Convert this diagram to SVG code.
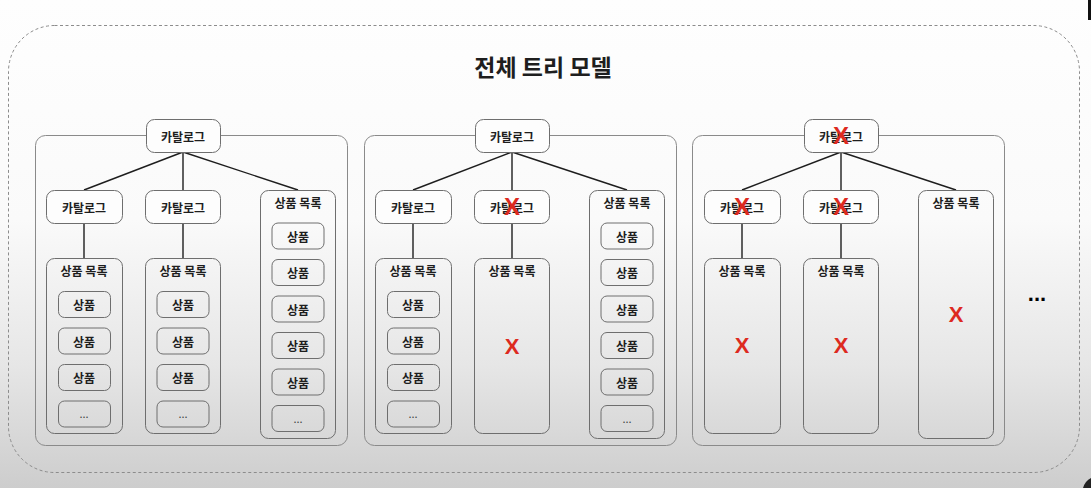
<svg xmlns="http://www.w3.org/2000/svg" width="1091" height="488" viewBox="0 0 1091 488">
<defs>
<linearGradient id="bg" x1="0" y1="0" x2="0" y2="1">
<stop offset="0" stop-color="#fefefe"/>
<stop offset="0.45" stop-color="#fafafa"/>
<stop offset="0.75" stop-color="#e6e6e6"/>
<stop offset="1" stop-color="#cdcdcd"/>
</linearGradient>
<style>
text{font-family:"Noto Sans CJK KR","Noto Sans",sans-serif;fill:#1e1e1e;text-anchor:middle;dominant-baseline:central;}
.lbl{font-size:12px;font-weight:700;}
.title{font-size:23px;font-weight:700;}
.dots{font-size:11px;fill:#444;}
.x{font-family:"Liberation Sans",sans-serif;fill:#dd2a1f;font-size:22px;font-weight:700;dominant-baseline:auto;}
.xn{font-family:"Liberation Sans",sans-serif;fill:#dd2a1f;font-size:24px;font-weight:700;dominant-baseline:auto;}
.frame{fill:none;stroke:#8a8a8a;stroke-width:1;}
.node{fill:#fdfdfd;stroke:#6e6e6e;stroke-width:1;}
.list{fill:none;stroke:#6e6e6e;stroke-width:1;}
.item{fill:none;stroke:#6e6e6e;stroke-width:1;}
.conn line{stroke:#1e1e1e;stroke-width:1.4;}
.more{font-family:"Liberation Sans",sans-serif;font-size:22px;font-weight:700;fill:#000;dominant-baseline:auto;}
</style>
</defs>
<rect x="0" y="0" width="1091" height="488" fill="url(#bg)"/>
<rect x="1088" y="0" width="3" height="20" fill="#111"/>
<path d="M1091 478 Q1085 481 1083 488 L1091 488 Z" fill="#222"/>
<rect id="outer" x="8.5" y="25.5" width="1071" height="447" rx="46" fill="none" stroke="#8c8c8c" stroke-width="1" stroke-dasharray="3 2.5"/>
<g id="title"><text class="title" x="543" y="66">전체 트리 모델</text></g>

<!-- Panel 1 -->
<g id="panel1">
<g id="p1-frame"><rect class="frame" x="35.5" y="135.5" width="312" height="310" rx="10"/></g>
<g id="p1-connectors" class="conn">
<line x1="183" y1="152" x2="84" y2="190"/>
<line x1="183" y1="152" x2="183" y2="190"/>
<line x1="183" y1="152" x2="298" y2="190"/>
<line x1="84" y1="223" x2="84" y2="258"/>
<line x1="183" y1="223" x2="183" y2="258"/>
</g>
<g id="p1-root"><rect class="node" x="146.5" y="119.5" width="74" height="33" rx="8"/><text class="lbl" x="183" y="136">카탈로그</text></g>
<g id="p1-cat1"><rect class="node" x="46.5" y="190.5" width="76" height="33" rx="8"/><text class="lbl" x="84" y="207">카탈로그</text></g>
<g id="p1-cat2"><rect class="node" x="145.5" y="190.5" width="75" height="33" rx="8"/><text class="lbl" x="183" y="207">카탈로그</text></g>
<g id="p1-list1"><rect class="list" x="46.5" y="258.5" width="76" height="175" rx="8"/><text class="lbl" x="84" y="270">상품 목록</text>
<rect class="item" x="58.5" y="291.5" width="52" height="26" rx="6"/><text class="lbl" x="84" y="304.5">상품</text>
<rect class="item" x="58.5" y="328" width="52" height="26" rx="6"/><text class="lbl" x="84" y="341">상품</text>
<rect class="item" x="58.5" y="364.5" width="52" height="26" rx="6"/><text class="lbl" x="84" y="377.5">상품</text>
<rect class="item" x="58.5" y="401" width="52" height="26" rx="6"/><text class="dots" x="84" y="413">...</text></g>
<g id="p1-list2"><rect class="list" x="145.5" y="258.5" width="75" height="175" rx="8"/><text class="lbl" x="183" y="270">상품 목록</text>
<rect class="item" x="157" y="291.5" width="52" height="26" rx="6"/><text class="lbl" x="183" y="304.5">상품</text>
<rect class="item" x="157" y="328" width="52" height="26" rx="6"/><text class="lbl" x="183" y="341">상품</text>
<rect class="item" x="157" y="364.5" width="52" height="26" rx="6"/><text class="lbl" x="183" y="377.5">상품</text>
<rect class="item" x="157" y="401" width="52" height="26" rx="6"/><text class="dots" x="183" y="413">...</text></g>
<g id="p1-list3"><rect class="list" x="260.5" y="190.5" width="75" height="248" rx="8"/><text class="lbl" x="298" y="202">상품 목록</text>
<rect class="item" x="272" y="223" width="52" height="26" rx="6"/><text class="lbl" x="298" y="236">상품</text>
<rect class="item" x="272" y="259.5" width="52" height="26" rx="6"/><text class="lbl" x="298" y="272.5">상품</text>
<rect class="item" x="272" y="296" width="52" height="26" rx="6"/><text class="lbl" x="298" y="309">상품</text>
<rect class="item" x="272" y="332.5" width="52" height="26" rx="6"/><text class="lbl" x="298" y="345.5">상품</text>
<rect class="item" x="272" y="369" width="52" height="26" rx="6"/><text class="lbl" x="298" y="382">상품</text>
<rect class="item" x="272" y="405.5" width="52" height="26" rx="6"/><text class="dots" x="298" y="417.5">...</text></g>
</g>

<!-- Panel 2 -->
<g id="panel2" transform="translate(329,0)">
<g id="p2-frame"><rect class="frame" x="35.5" y="135.5" width="312" height="310" rx="10"/></g>
<g id="p2-connectors" class="conn">
<line x1="183" y1="152" x2="84" y2="190"/>
<line x1="183" y1="152" x2="183" y2="190"/>
<line x1="183" y1="152" x2="298" y2="190"/>
<line x1="84" y1="223" x2="84" y2="258"/>
<line x1="183" y1="223" x2="183" y2="258"/>
</g>
<g id="p2-root"><rect class="node" x="146.5" y="119.5" width="74" height="33" rx="8"/><text class="lbl" x="183" y="136">카탈로그</text></g>
<g id="p2-cat1"><rect class="node" x="46.5" y="190.5" width="76" height="33" rx="8"/><text class="lbl" x="84" y="207">카탈로그</text></g>
<g id="p2-cat2"><rect class="node" x="145.5" y="190.5" width="75" height="33" rx="8"/><text class="lbl" x="183" y="207">카탈로그</text><text class="xn" x="183" y="215">X</text></g>
<g id="p2-list1"><rect class="list" x="46.5" y="258.5" width="76" height="175" rx="8"/><text class="lbl" x="84" y="270">상품 목록</text>
<rect class="item" x="58.5" y="291.5" width="52" height="26" rx="6"/><text class="lbl" x="84" y="304.5">상품</text>
<rect class="item" x="58.5" y="328" width="52" height="26" rx="6"/><text class="lbl" x="84" y="341">상품</text>
<rect class="item" x="58.5" y="364.5" width="52" height="26" rx="6"/><text class="lbl" x="84" y="377.5">상품</text>
<rect class="item" x="58.5" y="401" width="52" height="26" rx="6"/><text class="dots" x="84" y="413">...</text></g>
<g id="p2-list2"><rect class="list" x="145.5" y="258.5" width="75" height="175" rx="8"/><text class="lbl" x="183" y="270">상품 목록</text><text class="x" x="183" y="354">X</text></g>
<g id="p2-list3"><rect class="list" x="260.5" y="190.5" width="75" height="248" rx="8"/><text class="lbl" x="298" y="202">상품 목록</text>
<rect class="item" x="272" y="223" width="52" height="26" rx="6"/><text class="lbl" x="298" y="236">상품</text>
<rect class="item" x="272" y="259.5" width="52" height="26" rx="6"/><text class="lbl" x="298" y="272.5">상품</text>
<rect class="item" x="272" y="296" width="52" height="26" rx="6"/><text class="lbl" x="298" y="309">상품</text>
<rect class="item" x="272" y="332.5" width="52" height="26" rx="6"/><text class="lbl" x="298" y="345.5">상품</text>
<rect class="item" x="272" y="369" width="52" height="26" rx="6"/><text class="lbl" x="298" y="382">상품</text>
<rect class="item" x="272" y="405.5" width="52" height="26" rx="6"/><text class="dots" x="298" y="417.5">...</text></g>
</g>

<!-- Panel 3 -->
<g id="panel3" transform="translate(658,0)">
<g id="p3-frame"><rect class="frame" x="34.5" y="135.5" width="312" height="310" rx="10"/></g>
<g id="p3-connectors" class="conn">
<line x1="183" y1="152" x2="84" y2="190"/>
<line x1="183" y1="152" x2="183" y2="190"/>
<line x1="183" y1="152" x2="298" y2="190"/>
<line x1="84" y1="223" x2="84" y2="258"/>
<line x1="183" y1="223" x2="183" y2="258"/>
</g>
<g id="p3-root"><rect class="node" x="146.5" y="119.5" width="74" height="33" rx="8"/><text class="lbl" x="183" y="136">카탈로그</text><text class="xn" x="183" y="144">X</text></g>
<g id="p3-cat1"><rect class="node" x="46.5" y="190.5" width="76" height="33" rx="8"/><text class="lbl" x="84" y="207">카탈로그</text><text class="xn" x="84" y="215">X</text></g>
<g id="p3-cat2"><rect class="node" x="145.5" y="190.5" width="75" height="33" rx="8"/><text class="lbl" x="183" y="207">카탈로그</text><text class="xn" x="183" y="215">X</text></g>
<g id="p3-list1"><rect class="list" x="46.5" y="258.5" width="76" height="175" rx="8"/><text class="lbl" x="84" y="270">상품 목록</text><text class="x" x="84" y="353">X</text></g>
<g id="p3-list2"><rect class="list" x="145.5" y="258.5" width="75" height="175" rx="8"/><text class="lbl" x="183" y="270">상품 목록</text><text class="x" x="183" y="353">X</text></g>
<g id="p3-list3"><rect class="list" x="260.5" y="190.5" width="75" height="248" rx="8"/><text class="lbl" x="298" y="202">상품 목록</text><text class="x" x="298" y="322">X</text></g>
</g>

<g id="more"><text class="more" x="1037" y="301">...</text></g>
</svg>
